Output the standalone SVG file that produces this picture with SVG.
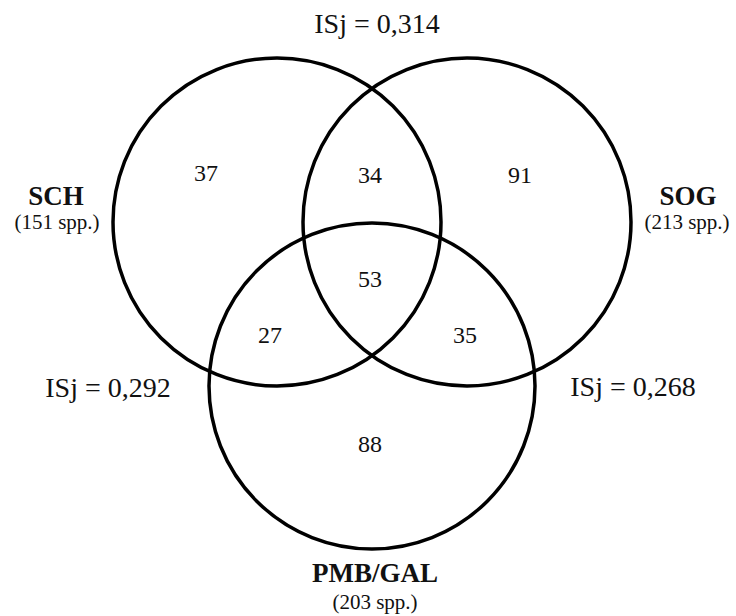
<svg xmlns="http://www.w3.org/2000/svg" width="736" height="616" viewBox="0 0 736 616">
<style>
.c{fill:none;stroke:#000;stroke-width:3.5}
text{font-family:"Liberation Serif","Times New Roman",serif;fill:#111;text-anchor:middle}
.n{font-size:24px}
.isj{font-size:28px}
.lab{font-size:27px;font-weight:bold}
.sp{font-size:21px}
</style>
<rect width="736" height="616" fill="#fff"/>
<g id="SCH">
<circle class="c" cx="277" cy="222" r="164"/>
<text class="lab" x="56" y="205">SCH</text>
<text class="sp" x="57" y="229">(151 spp.)</text>
</g>
<g id="SOG">
<circle class="c" cx="467" cy="222" r="164"/>
<text class="lab" x="688" y="205">SOG</text>
<text class="sp" x="687" y="229">(213 spp.)</text>
</g>
<g id="PMB_GAL">
<circle class="c" cx="372" cy="386" r="163"/>
<text class="lab" x="375" y="582">PMB/GAL</text>
<text class="sp" x="375" y="609">(203 spp.)</text>
</g>
<g id="counts">
<text class="n" x="206" y="181">37</text>
<text class="n" x="370" y="183">34</text>
<text class="n" x="520" y="183">91</text>
<text class="n" x="370" y="287">53</text>
<text class="n" x="270" y="343">27</text>
<text class="n" x="465" y="343">35</text>
<text class="n" x="370" y="452">88</text>
</g>
<g id="indices">
<text class="isj" x="377" y="33">ISj = 0,314</text>
<text class="isj" x="108" y="397">ISj = 0,292</text>
<text class="isj" x="633" y="396">ISj = 0,268</text>
</g>
</svg>
